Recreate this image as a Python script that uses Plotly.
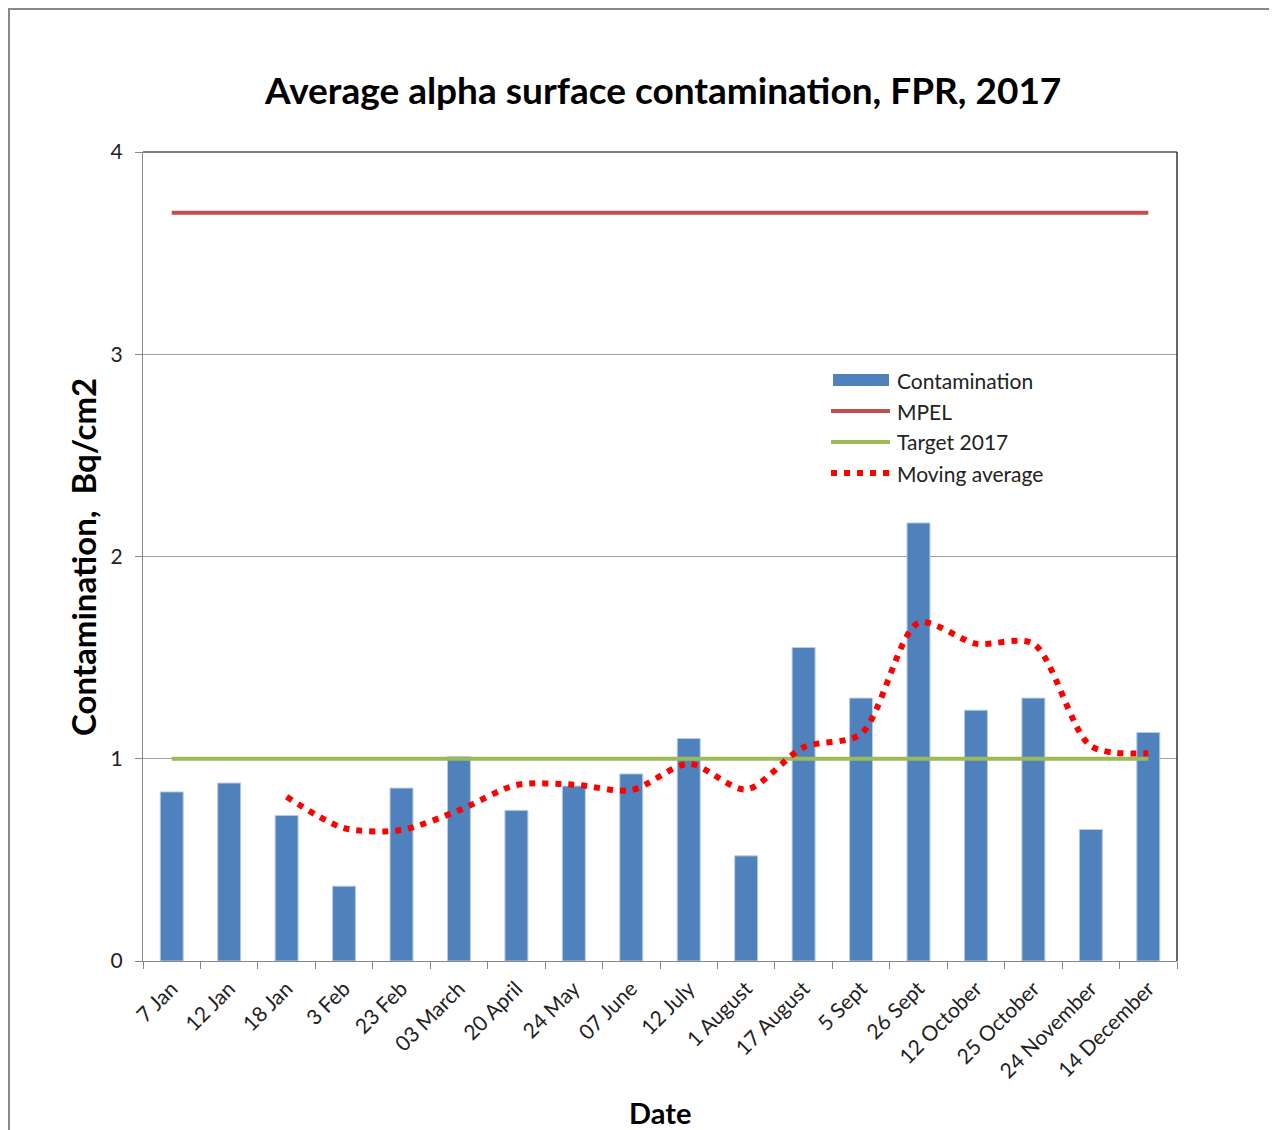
import plotly.graph_objects as go

categories = ["7 Jan", "12 Jan", "18 Jan", "3 Feb", "23 Feb", "03 March", "20 April", "24 May",
              "07 June", "12 July", "1 August", "17 August", "5 Sept", "26 Sept", "12 October",
              "25 October", "24 November", "14 December"]
contamination = [0.836, 0.88, 0.72, 0.37, 0.855, 1.01, 0.745, 0.865, 0.925, 1.10, 0.52, 1.55,
                 1.30, 2.166, 1.24, 1.30, 0.65, 1.13]
mpel = [3.7] * 18
target = [1.0] * 18
moving_avg = [None, None, 0.812, 0.657, 0.648, 0.745, 0.87, 0.872, 0.845, 0.975, 0.848, 1.057,
              1.123, 1.672, 1.569, 1.569, 1.063, 1.027]

OFF = 8  # page body margin
W, H = 1277 - OFF, 1130 - OFF
L, T = 143 - OFF, 152 - OFF
pw, ph = 1034, 809
R, B = W - L - pw, H - T - ph

def px(x):
    return (x - OFF - L) / pw

def py(y):
    return 1 - (y - OFF - T) / ph

FONT = "Lato, 'Open Sans', sans-serif"
blue = "#4F81BD"
red = "#C0504D"
green = "#9BBB59"

fig = go.Figure()
fig.add_trace(go.Bar(x=categories, y=contamination, name="Contamination",
                     marker=dict(color=blue, line=dict(color="#B9CDE5", width=1)), width=0.4))
fig.add_trace(go.Scatter(x=categories, y=mpel, name="MPEL", mode="lines",
                         line=dict(color=red, width=4)))
fig.add_trace(go.Scatter(x=categories, y=target, name="Target 2017", mode="lines",
                         line=dict(color=green, width=4)))
fig.add_trace(go.Scatter(x=categories, y=moving_avg, name="Moving average", mode="lines",
                         line=dict(color="#FF0000", width=6, dash="6px,7px", shape="spline", smoothing=0.8)))

shapes = []
annotations = []
# outer frame
shapes.append(dict(type="rect", xref="paper", yref="paper", x0=px(9), x1=px(1272), y0=py(1145), y1=py(9),
                   line=dict(color="#888888", width=2), fillcolor="rgba(0,0,0,0)", layer="below"))
# top and right border of plot
shapes.append(dict(type="line", xref="paper", yref="paper", x0=0, x1=1, y0=1, y1=1,
                   line=dict(color="black", width=1.2)))
shapes.append(dict(type="line", xref="paper", yref="paper", x0=1, x1=1, y0=0, y1=1,
                   line=dict(color="black", width=1.2)))

# custom legend
leg_items = [("Contamination", "bar", blue), ("MPEL", "line", red),
             ("Target 2017", "line", green), ("Moving average", "dot", "#FF0000")]
for i, (name, kind, col) in enumerate(leg_items):
    yc = 380 + i * 31
    if kind == "bar":
        shapes.append(dict(type="rect", xref="paper", yref="paper", x0=px(833), x1=px(889),
                           y0=py(yc + 6), y1=py(yc - 6), fillcolor=col, line=dict(width=0)))
    elif kind == "line":
        shapes.append(dict(type="line", xref="paper", yref="paper", x0=px(831), x1=px(890),
                           y0=py(yc), y1=py(yc), line=dict(color=col, width=4)))
    else:
        shapes.append(dict(type="line", xref="paper", yref="paper", x0=px(831), x1=px(890),
                           y0=py(yc), y1=py(yc), line=dict(color=col, width=6, dash="6px,7px")))
    annotations.append(dict(text=name, xref="paper", yref="paper", x=px(895), y=py(yc),
                            xanchor="left", yanchor="middle", showarrow=False,
                            font=dict(family=FONT, size=21, color="#222222")))

annotations.append(dict(text="<b>Date</b>", xref="paper", yref="paper", x=px(660), y=py(1112),
                        xanchor="center", yanchor="middle", showarrow=False,
                        font=dict(family=FONT, size=29, color="black")))
annotations.append(dict(text="<b>Contamination,  Bq/cm2</b>", xref="paper", yref="paper", x=px(83), y=py(557),
                        xanchor="center", yanchor="middle", showarrow=False, textangle=-90,
                        font=dict(family=FONT, size=33, color="black")))
annotations.append(dict(text="<b>Average alpha surface contamination, FPR, 2017</b>", xref="paper", yref="paper",
                        x=px(662), y=py(90), xanchor="center", yanchor="middle", showarrow=False,
                        font=dict(family=FONT, size=37, color="black")))

fig.update_layout(
    width=W, height=H,
    margin=dict(l=L, r=R, t=T, b=B),
    paper_bgcolor="white", plot_bgcolor="white",
    showlegend=False,
    font=dict(family=FONT, color="#222222"),
    xaxis=dict(type="category", tickangle=-45, tickfont=dict(size=21, family=FONT),
               showline=True, linecolor="#888888", linewidth=1.2,
               ticks="outside", ticklen=7, tickcolor="#888888", tickson="boundaries",
               ticklabelstandoff=6,
               showgrid=False, range=[-0.5, 17.5]),
    yaxis=dict(range=[0, 4], dtick=1, tickfont=dict(size=21, family=FONT),
               showline=True, linecolor="#888888", linewidth=1.2,
               ticks="outside", ticklen=7, tickcolor="#888888", ticklabelstandoff=8,
               showgrid=True, gridcolor="#A0A0A0", gridwidth=1, zeroline=False),
    shapes=shapes,
    annotations=annotations,
)

fig.write_html("out.html")
